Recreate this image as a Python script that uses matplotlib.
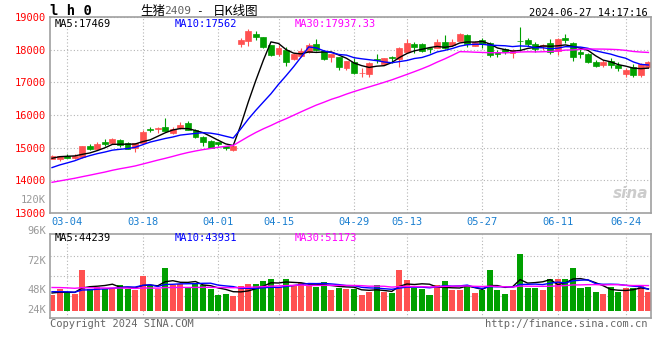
import numpy as np
import pandas as pd
import matplotlib
matplotlib.use("Agg")
import matplotlib.pyplot as plt

# trading days shown: 2024-02-29 .. 2024-06-27 (exchange holidays removed)
holidays = ["2024-04-04", "2024-04-05", "2024-05-01", "2024-05-02", "2024-05-03", "2024-06-10"]
days = pd.bdate_range("2024-02-29", "2024-06-27")
days = days[~days.isin(pd.to_datetime(holidays))]

open_ = [14650, 14660, 14755, 14680, 14705, 15050, 14970, 15170, 15150, 15235,
         15130, 14975, 15130, 15570, 15580, 15640, 15460, 15590, 15750, 15540,
         15320, 15210, 15160, 15040, 14930, 18180, 18270, 18480, 18390, 18140,
         17860, 17990, 17700, 17815, 17940, 18160, 17960, 17790, 17780, 17430,
         17613, 17280, 17246, 17700, 17550, 17780, 17700, 17940, 18170, 18170,
         18040, 18060, 18245, 18150, 18280, 18450, 18120, 18290, 18200, 17940,
         18020, 17890, 18280, 18300, 18170, 18110, 18200, 17970, 18370, 18190,
         17920, 17860, 17630, 17530, 17650, 17530, 17250, 17480, 17220, 17480]
high = [14785, 14750, 14805, 14800, 15050, 15100, 15160, 15260, 15310, 15260,
        15170, 15150, 15530, 15620, 15640, 15920, 15620, 15790, 15820, 15560,
        15350, 15230, 15170, 15060, 15070, 18350, 18630, 18570, 18400, 18150,
        18130, 18090, 17900, 18040, 18190, 18330, 18000, 17880, 17790, 17660,
        17745, 17430, 17620, 17860, 17760, 17810, 18090, 18330, 18250, 18210,
        18090, 18330, 18450, 18330, 18500, 18470, 18260, 18360, 18230, 18000,
        18060, 18020, 18700, 18360, 18250, 18170, 18330, 18350, 18470, 18250,
        18020, 17890, 17690, 17680, 17750, 17610, 17450, 17550, 17580, 17640]
low = [14640, 14600, 14670, 14650, 14690, 14930, 14950, 15050, 15120, 15020,
       14950, 14880, 15120, 15480, 15460, 15500, 15430, 15560, 15530, 15300,
       15050, 14980, 15060, 14920, 14900, 18090, 18110, 18300, 18050, 17800,
       17800, 17510, 17680, 17790, 17900, 17960, 17680, 17630, 17380, 17380,
       17246, 17170, 17170, 17580, 17520, 17580, 17480, 17900, 17890, 17930,
       17900, 18040, 18020, 18100, 18260, 18090, 18100, 18060, 17780, 17780,
       17860, 17760, 17960, 18120, 17930, 17980, 17860, 17850, 18200, 17650,
       17760, 17600, 17480, 17480, 17440, 17360, 17150, 17150, 17170, 17450]
close = [14745, 14745, 14685, 14750, 15050, 14960, 15110, 15110, 15275, 15070,
         14970, 15130, 15480, 15550, 15610, 15510, 15560, 15695, 15540, 15320,
         15180, 15000, 15100, 14980, 15060, 18300, 18570, 18400, 18080, 17840,
         18060, 17630, 17860, 17960, 18140, 17990, 17700, 17860, 17480, 17650,
         17276, 17295, 17580, 17670, 17730, 17750, 18060, 18195, 18090, 17960,
         18010, 18245, 18060, 18240, 18470, 18170, 18220, 18170, 17840, 17860,
         17920, 17990, 18260, 18160, 18020, 18140, 17940, 18330, 18300, 17790,
         17860, 17610, 17510, 17630, 17530, 17430, 17375, 17210, 17550, 17610]
volume = [32, 44, 38, 34, 82, 45, 49, 45, 47, 52, 45, 42, 70, 50, 45, 86, 52, 54, 49, 54,
          52, 44, 32, 34, 31, 50, 54, 54, 60, 64, 48, 64, 50, 56, 50, 48, 58, 43, 47, 45,
          45, 32, 38, 52, 38, 36, 82, 62, 47, 45, 32, 52, 60, 43, 43, 52, 36, 42, 82, 42,
          34, 42, 114, 47, 47, 42, 64, 64, 64, 86, 46, 49, 38, 34, 49, 38, 46, 46, 52, 38]
volume = [v * 1000 for v in volume]

# earlier sessions (off screen, estimated) so the moving averages start where they do
prev_close = [13500, 13450, 13520, 13600, 13580, 13650, 13700, 13620, 13680, 13750,
              13800, 13720, 13760, 13800, 13850, 13780, 13820, 13880, 13900, 13920,
              13950, 14050, 14100, 14180, 14250, 14500, 14620, 14700, 14810]
prev_volume = [48, 55, 60, 45, 50, 58, 52, 47, 53, 49, 62, 44, 50, 55, 48, 52, 46, 54, 50, 46,
               44, 40, 42, 38, 42, 36, 39, 35, 38]
prev_volume = [v * 1000 for v in prev_volume]

tick_dates = ["03-04", "03-18", "04-01", "04-15", "04-29", "05-13", "05-27", "06-11", "06-24"]

RED = "#ff5050"
GREEN = "#00a000"
GRID = "#b4b4b4"
BORDER = "#a0a0a0"
MONO = "DejaVu Sans Mono"
CJK = ["Noto Sans CJK SC", "DejaVu Sans"]

x = np.arange(len(close))
o = np.array(open_)
c = np.array(close)
up = c >= o
colors = [RED if u else GREEN for u in up]


def ma(prev, cur, n):
    s = pd.Series(list(prev) + list(cur)).rolling(n).mean().to_numpy()
    return s[len(prev):]


W, H = 660, 360


def box(l, t, r, b):
    return [l / W, 1 - b / H, (r - l) / W, (b - t) / H]


def px(xp, yp):
    return xp / W, 1 - yp / H


fig = plt.figure(figsize=(6.6, 3.6), dpi=100)
ax = fig.add_axes(box(50, 17, 651, 213))
axv = fig.add_axes(box(50, 234, 651, 318))

tick_idx = [list(days.strftime("%m-%d")).index(d) for d in tick_dates]

### price panel
ax.vlines(x, low, high, colors=colors, linewidth=0.8)
body = np.maximum(np.abs(c - o), 8)
ax.bar(x, body, bottom=np.minimum(o, c), width=0.78, color=colors,
       edgecolor=colors, linewidth=0.5)
ax.plot(x, ma(prev_close, close, 5), color="black", lw=1)
ax.plot(x, ma(prev_close, close, 10), color="#0000ff", lw=1)
ax.plot(x, ma(prev_close, close, 30), color="#ff00ff", lw=1)

ax.set_xlim(-0.27, 79.34)
ax.set_ylim(13000, 19000)
ax.set_yticks(range(13000, 19001, 1000))
ax.set_xticks(tick_idx)
ax.set_xticklabels(tick_dates)
ax.tick_params(axis="y", length=0, pad=3, labelsize=7.5, labelcolor="#ff0000")
ax.tick_params(axis="x", length=0, pad=3, labelsize=7.5, labelcolor="#1a7fd0")
for lab in ax.get_xticklabels() + ax.get_yticklabels():
    lab.set_family(MONO)
ax.grid(True, color=GRID, linestyle=(0, (1, 2)), linewidth=0.8)

### volume panel
axv.bar(x, volume, width=0.8, color=colors)
axv.plot(x, ma(prev_volume, volume, 5), color="black", lw=1)
axv.plot(x, ma(prev_volume, volume, 10), color="#0000ff", lw=1)
axv.plot(x, ma(prev_volume, volume, 30), color="#ff00ff", lw=1)
axv.set_xlim(-0.27, 79.34)
axv.set_ylim(-14000, 154000)
axv.set_xticks(tick_idx)
axv.set_yticks([30000, 70000, 110000])
axv.set_xticklabels([])
axv.set_yticklabels([])
axv.tick_params(length=0)
axv.grid(True, color=GRID, linestyle=(0, (1, 2)), linewidth=0.8)

for a in (ax, axv):
    a.set_axisbelow(True)
    for s in a.spines.values():
        s.set_color(BORDER)
        s.set_linewidth(1.2)

### texts
fig.text(*px(50, 11), "l h 0", family=MONO, weight="bold", fontsize=10, va="center")
fig.text(*px(140, 11), "生猪", family=CJK, fontsize=9, va="center")
fig.text(*px(164, 11), "2409", family=MONO, fontsize=8, color="#606060", va="center")
fig.text(*px(196, 11), "-", family=MONO, fontsize=8, va="center")
fig.text(*px(213, 11), "日K线图", family=CJK, fontsize=9, va="center")
fig.text(*px(648, 13), "2024-06-27 14:17:16", family=MONO, fontsize=7.5,
         ha="right", va="center")

fig.text(*px(55, 24), "MA5:17469", family=MONO, fontsize=7.5, va="center", color="black")
fig.text(*px(175, 24), "MA10:17562", family=MONO, fontsize=7.5, va="center", color="#0000ff")
fig.text(*px(295, 24), "MA30:17937.33", family=MONO, fontsize=7.5, va="center", color="#ff00ff")

fig.text(*px(55, 238), "MA5:44239", family=MONO, fontsize=7.5, va="center", color="black")
fig.text(*px(175, 238), "MA10:43931", family=MONO, fontsize=7.5, va="center", color="#0000ff")
fig.text(*px(295, 238), "MA30:51173", family=MONO, fontsize=7.5, va="center", color="#ff00ff")

fig.text(*px(46, 200), "120K", family=MONO, fontsize=7.5, color="#999999", ha="right", va="center")
for lbl, yp in [("96K", 231), ("72K", 261), ("48K", 290), ("24K", 310)]:
    fig.text(*px(46, yp), lbl, family=MONO, fontsize=7.5, color="#999999", ha="right", va="center")

fig.text(*px(50, 324), "Copyright 2024 SINA.COM", family=MONO, fontsize=7.5,
         color="#666666", va="center")
fig.text(*px(648, 324), "http://finance.sina.com.cn", family=MONO, fontsize=7.5,
         color="#666666", ha="right", va="center")

fig.text(*px(648, 194), "sina", fontsize=11, style="italic", weight="bold",
         color="#cccccc", ha="right", va="center")

fig.savefig("out.png", dpi=100)
